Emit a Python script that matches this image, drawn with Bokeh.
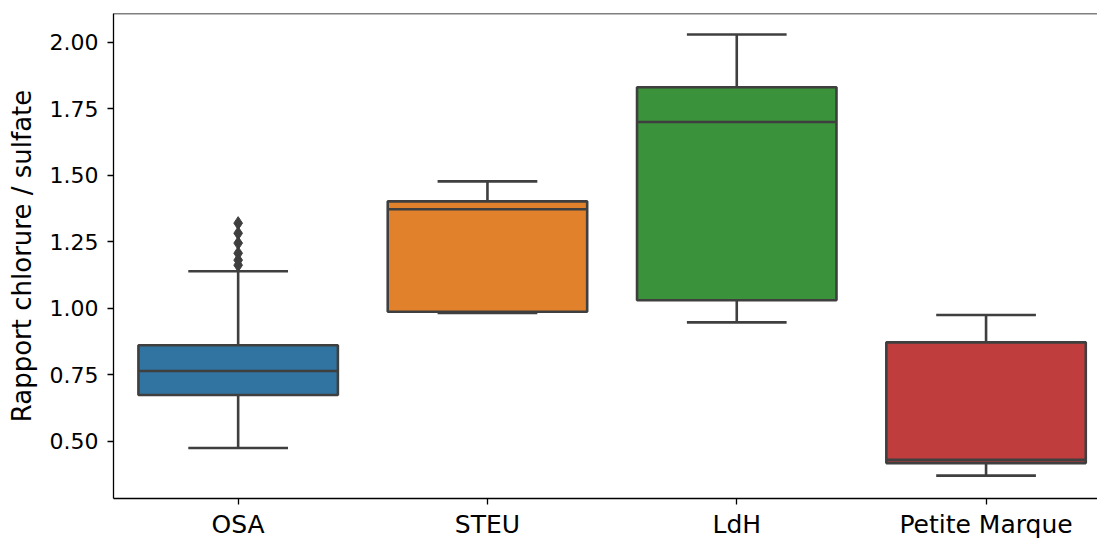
from bokeh.plotting import figure
from bokeh.models import FixedTicker, Range1d, Span, ColumnDataSource
from bokeh.embed import file_html
from bokeh.resources import INLINE

# ---- data ----
categories = ["OSA", "STEU", "LdH", "Petite Marque"]
q1 = [0.674, 0.987, 1.030, 0.418]
median = [0.764, 1.372, 1.700, 0.430]
q3 = [0.861, 1.402, 1.831, 0.872]
whisker_low = [0.475, 0.982, 0.947, 0.371]
whisker_high = [1.139, 1.477, 2.029, 0.975]
outlier_cat = [0, 0, 0, 0, 0, 0]
outlier_val = [1.320, 1.282, 1.245, 1.207, 1.181, 1.162]
colors = ["#3274a1", "#e1812c", "#3a923a", "#c03d3e"]
y_ticks = [0.50, 0.75, 1.00, 1.25, 1.50, 1.75, 2.00]

EDGE = "#3f3f3f"
FONT = "DejaVu Sans"
BOX_W = 0.8
CAP_W = 0.4
LW = 2.6

xs = list(range(len(categories)))

p = figure(
    frame_width=984, frame_height=485,
    min_border_left=113, min_border_top=13, min_border_right=0, min_border_bottom=39,
    x_range=Range1d(-0.5, 3.447), y_range=Range1d(0.285, 2.108),
    output_backend="svg", toolbar_location=None,
)
p.outline_line_color = None
p.xgrid.visible = False
p.ygrid.visible = False
p.background_fill_color = "white"
p.border_fill_color = "white"

src = ColumnDataSource(dict(
    x=xs, q1=q1, med=median, q3=q3, lo=whisker_low, hi=whisker_high, color=colors,
    left=[x - BOX_W / 2 for x in xs], right=[x + BOX_W / 2 for x in xs],
    cl=[x - CAP_W / 2 for x in xs], cr=[x + CAP_W / 2 for x in xs],
))

# whiskers
p.segment(x0="x", y0="q3", x1="x", y1="hi", source=src, line_color=EDGE, line_width=LW)
p.segment(x0="x", y0="q1", x1="x", y1="lo", source=src, line_color=EDGE, line_width=LW)
p.segment(x0="cl", y0="hi", x1="cr", y1="hi", source=src, line_color=EDGE, line_width=LW)
p.segment(x0="cl", y0="lo", x1="cr", y1="lo", source=src, line_color=EDGE, line_width=LW)
# boxes
p.quad(left="left", right="right", bottom="q1", top="q3", source=src,
       fill_color="color", line_color=EDGE, line_width=LW)
# medians
p.segment(x0="left", y0="med", x1="right", y1="med", source=src, line_color=EDGE, line_width=LW)
# outliers
p.scatter(x=outlier_cat, y=outlier_val, marker="diamond", size=13,
          fill_color=EDGE, line_color=EDGE, line_width=1)

# top spine
p.add_layout(Span(location=2.108, dimension="width", line_color="black", line_width=1.3))

# axes
for ax in (p.xaxis[0], p.yaxis[0]):
    ax.axis_line_color = "black"
    ax.axis_line_width = 1.3
    ax.major_tick_line_color = "black"
    ax.major_tick_line_width = 1.3
    ax.major_tick_in = 0
    ax.major_tick_out = 6
    ax.minor_tick_line_color = None
    ax.major_label_text_font = FONT
    ax.major_label_text_color = "black"

p.xaxis.ticker = FixedTicker(ticks=xs)
p.xaxis.major_label_overrides = {i: c for i, c in enumerate(categories)}
p.xaxis.major_label_text_font_size = "25px"
p.xaxis.major_label_standoff = 5

p.yaxis.ticker = FixedTicker(ticks=y_ticks)
p.yaxis.major_label_overrides = {t: f"{t:.2f}" for t in y_ticks}
p.yaxis.major_label_text_font_size = "22px"
p.yaxis.major_label_standoff = 9
p.yaxis.axis_label = "Rapport chlorure / sulfate"
p.yaxis.axis_label_text_font = FONT
p.yaxis.axis_label_text_font_size = "26px"
p.yaxis.axis_label_text_font_style = "normal"
p.yaxis.axis_label_text_color = "black"
p.yaxis.axis_label_standoff = 10

open("out.html", "w").write(file_html(p, INLINE))
